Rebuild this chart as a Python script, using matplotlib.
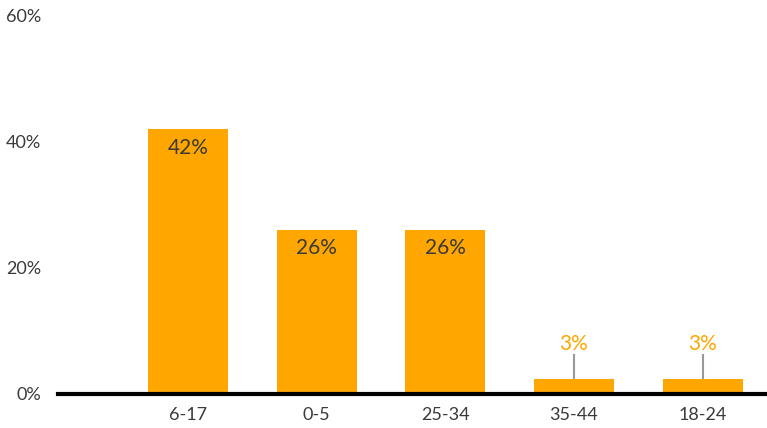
import matplotlib
matplotlib.use('Agg')
import matplotlib.pyplot as plt

# data
categories = ['6-17', '0-5', '25-34', '35-44', '18-24']
values = [42, 26, 26, 2.4, 2.4]
labels = ['42%', '26%', '26%', '3%', '3%']
y_ticks = [0, 20, 40, 60]

orange = '#FFA600'
text_col = '#3a3a3a'

plt.rcParams['font.family'] = ['Lato', 'DejaVu Sans']

fig = plt.figure(figsize=(7.67, 4.28), dpi=100)
ax = fig.add_axes([58 / 767, 34 / 428, 1 - 58 / 767, 378 / 428])

x = list(range(len(categories)))
bars = ax.bar(x, values, width=0.62, color=orange, zorder=2)

ax.set_xlim(-1.01, 4.5)
ax.set_ylim(0, 60)
ax.set_yticks(y_ticks)
ax.set_yticklabels([f'{t}%' for t in y_ticks])
ax.set_xticks(x)
ax.set_xticklabels(categories)
ax.tick_params(axis='y', length=0, pad=12, labelsize=13, labelcolor=text_col)
ax.tick_params(axis='x', length=0, pad=9, labelsize=13, labelcolor=text_col)

for s in ['top', 'right', 'left']:
    ax.spines[s].set_visible(False)
ax.spines['bottom'].set_linewidth(3)
ax.spines['bottom'].set_color('black')
ax.spines['bottom'].set_zorder(3)

for xi, v, lab in zip(x, values, labels):
    if v > 10:
        ax.text(xi, v - 1.3, lab, ha='center', va='top', fontsize=15, color=text_col)
    else:
        ax.plot([xi, xi], [v, v + 3.8], color='#999999', lw=1.5, zorder=1)
        ax.text(xi, v + 3.9, lab, ha='center', va='bottom', fontsize=15, color=orange)

fig.savefig('out.png', dpi=100)
